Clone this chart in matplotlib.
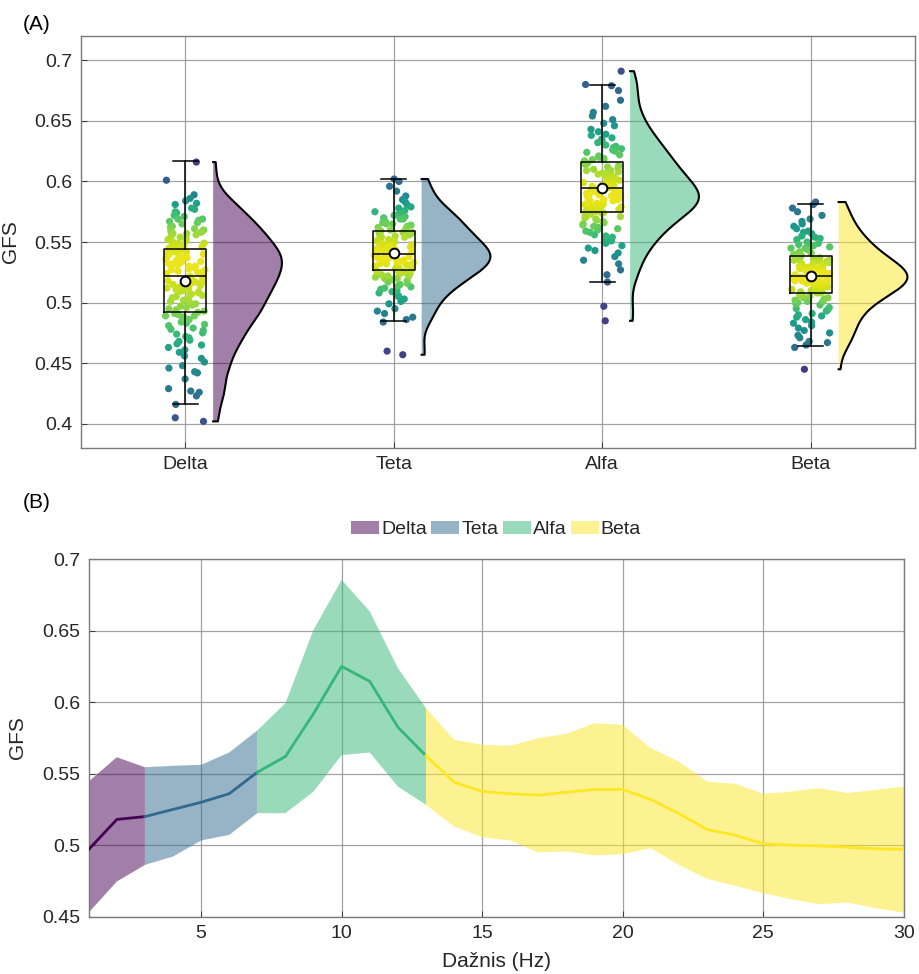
import numpy as np
import matplotlib
matplotlib.use("Agg")
import matplotlib.pyplot as plt
from matplotlib.patches import Patch

plt.rcParams['font.family'] = ['Liberation Sans', 'DejaVu Sans']

# ---------------- data ----------------
bands = ["Delta", "Teta", "Alfa", "Beta"]

delta_vals = [.402, .405, .416, .423, .426, .427, .429, .437, .442, .443, .446, .448,
              .451, .454, .456, .459, .461, .463, .465, .466, .468, .469,
              .471, .472, .474, .475, .477, .478, .479,
              .481, .482, .483, .484, .486, .487, .488, .489, .489,
              .490, .491, .492, .493, .494, .495, .496, .497, .498, .499, .499,
              .500, .501, .502, .503, .504, .505, .506, .507, .507, .508, .509, .509,
              .510, .511, .512, .512, .513, .514, .515, .516, .516, .517, .518, .519, .519,
              .520, .520, .521, .522, .522, .523, .524, .525, .525, .526, .527, .527, .528, .529, .529,
              .530, .530, .531, .532, .532, .533, .534, .534, .535, .536, .536, .537, .538, .538, .539, .539,
              .540, .540, .541, .542, .542, .543, .544, .545, .545, .546, .547, .547, .548, .549, .549,
              .550, .551, .552, .553, .554, .555, .556, .557, .557, .558, .559, .559,
              .560, .561, .562, .563, .565, .566, .567, .568, .569, .569,
              .571, .572, .574, .575, .577, .578,
              .581, .582, .584, .586, .589, .601, .616]

teta_vals = [.457, .460, .484, .486, .488, .491, .493, .495, .499,
             .501, .503, .505, .506, .508, .509,
             .510, .511, .512, .513, .514, .515, .516, .517, .518, .519,
             .520, .520, .521, .522, .522, .523, .524, .524, .525, .526, .526, .527, .527, .528, .528, .529, .529,
             .530, .530, .531, .531, .532, .532, .533, .533, .534, .534, .535, .535, .536, .536, .537, .537,
             .538, .538, .538, .539, .539, .539,
             .540, .540, .541, .541, .542, .542, .543, .543, .544, .544, .545, .545, .546, .546, .547, .547,
             .548, .548, .549, .549,
             .550, .551, .551, .552, .553, .554, .554, .555, .556, .557, .557, .558, .558, .559, .559,
             .560, .561, .562, .563, .564, .565, .565, .566, .567, .568, .569, .569,
             .570, .571, .572, .573, .574, .575, .576, .578, .579,
             .581, .583, .585, .588, .592, .596, .600, .602]

alfa_vals = [.485, .497, .517, .523, .527, .532, .535, .538,
             .541, .543, .545, .547, .549,
             .551, .552, .554, .555, .556, .558, .559,
             .560, .561, .562, .563, .564, .565, .566, .567, .568, .569,
             .570, .571, .571, .572, .573, .574, .574, .575, .576, .576, .577, .578, .578, .579, .579,
             .580, .580, .581, .581, .582, .582, .583, .584, .584, .585, .585, .586, .587, .587, .588, .588, .589, .589,
             .590, .590, .591, .591, .592, .592, .593, .594, .594, .595, .595, .596, .597, .597, .598, .598, .599,
             .600, .601, .601, .602, .603, .604, .604, .605, .606, .607, .607, .608, .609, .609,
             .610, .611, .612, .613, .614, .615, .616, .617, .618, .618, .619,
             .620, .621, .622, .624, .625, .626, .627, .628, .629,
             .630, .632, .633, .635, .636, .638, .639,
             .641, .643, .646, .648, .651, .654, .657, .662, .667, .675, .679, .680, .691]

beta_vals = [.445, .463, .465, .467, .468, .471, .473, .475, .477, .479,
             .481, .483, .484, .486, .488, .489,
             .490, .491, .493, .494, .495, .496, .498, .499,
             .500, .501, .501, .502, .503, .504, .504, .505, .506, .506, .507, .508, .508, .509, .509,
             .510, .510, .511, .511, .512, .512, .513, .513, .514, .514, .515, .515, .516, .516, .517, .517,
             .518, .518, .518, .519, .519, .519,
             .520, .520, .520, .521, .521, .521, .522, .522, .522, .523, .523, .523, .524, .524, .525, .525,
             .526, .526, .527, .527, .528, .528, .529, .529,
             .530, .530, .531, .531, .532, .532, .533, .533, .534, .534, .535, .535, .536, .536, .537, .537, .538, .539,
             .540, .541, .542, .543, .544, .545, .545, .546, .547, .548, .548, .549,
             .550, .552, .553, .554, .555, .557, .558, .559,
             .561, .563, .565, .567, .569, .572, .575, .578, .581, .583]

# box statistics per band
box_q1 = [0.492, 0.527, 0.5746, 0.508]
box_med = [0.5217, 0.540, 0.5942, 0.5217]
box_q3 = [0.5446, 0.5595, 0.6163, 0.5383]
box_wlo = [0.4165, 0.4845, 0.5171, 0.4639]
box_whi = [0.6165, 0.6022, 0.6796, 0.581]
box_mean = [0.5176, 0.541, 0.5948, 0.5217]

# panel B: GFS vs frequency
freq = [1, 2, 3, 4, 5, 6, 7, 8, 9, 10, 11, 12, 13, 14, 15,
        16, 17, 18, 19, 20, 21, 22, 23, 24, 25, 26, 27, 28, 29, 30]
gfs_mean = [0.497, 0.518, 0.520, 0.525, 0.530, 0.536, 0.551, 0.562, 0.592, 0.625,
            0.6145, 0.5825, 0.5625, 0.544, 0.5375, 0.536, 0.535, 0.537, 0.539, 0.539,
            0.532, 0.522, 0.511, 0.507, 0.501, 0.500, 0.4995, 0.4986, 0.4974, 0.4972]
gfs_upper = [0.5445, 0.5615, 0.5545, 0.5555, 0.5562, 0.5648, 0.5802, 0.5993, 0.6506, 0.6855,
             0.6634, 0.6238, 0.5958, 0.5737, 0.5702, 0.5695, 0.5748, 0.5779, 0.5853, 0.5841,
             0.5678, 0.5585, 0.5445, 0.5429, 0.5359, 0.5375, 0.5399, 0.5364, 0.5387, 0.541]
gfs_lower = [0.4529, 0.4746, 0.4862, 0.4921, 0.5033, 0.5072, 0.5224, 0.5224, 0.5375, 0.563,
             0.5648, 0.541, 0.5282, 0.5131, 0.5056, 0.5033, 0.4949, 0.4956, 0.4928, 0.4937,
             0.4979, 0.4862, 0.4765, 0.4716, 0.4664, 0.4622, 0.4587, 0.4599, 0.4559, 0.4529]
band_edges = [(1, 3), (3, 7), (7, 13), (13, 30)]

# ---------------- styling ----------------
cmap = plt.get_cmap('viridis')
band_colors = [cmap(0.0), cmap(1 / 3), cmap(2 / 3), cmap(1.0)]
text_col = '#262626'
grid_col = '#8c8c8c'
FS = 14

fig = plt.figure(figsize=(9.2, 9.74), dpi=100)
axA = fig.add_axes([0.088, 0.540, 0.9065, 0.423])
axB = fig.add_axes([0.0964, 0.0588, 0.886, 0.3672])


def kde(data, grid, bw):
    d = np.asarray(data)[:, None]
    g = np.asarray(grid)[None, :]
    return np.exp(-0.5 * ((g - d) / bw) ** 2).sum(axis=0) / (len(data) * bw * np.sqrt(2 * np.pi))


groups = [delta_vals, teta_vals, alfa_vals, beta_vals]

for i, vals in enumerate(groups):
    pos = i + 1
    vals = np.asarray(vals)
    n = len(vals)
    # deterministic scatter offset (hash of index)
    idx = np.arange(n) + 37 * (i + 1)
    h = np.sin(idx * 12.9898 + 78.233) * 43758.5453
    jit = (h - np.floor(h) - 0.5) * 0.19
    dens_pts = kde(vals, vals, 0.011)
    rel = dens_pts / dens_pts.max()
    cval = 0.97 * rel ** 0.5
    order = np.argsort(cval)
    axA.scatter(pos + jit[order], vals[order], s=27, c=cmap(cval[order]),
                edgecolors='none', zorder=3)
    # half violin
    grid = np.linspace(vals.min(), vals.max(), 300)
    dens = kde(vals, grid, 0.0095)
    width = dens / dens.max() * 0.33
    base = pos + 0.134
    axA.fill_betweenx(grid, base, base + width, facecolor=band_colors[i], alpha=0.5,
                      edgecolor='none', zorder=2)
    axA.plot(np.r_[base, base + width, base], np.r_[grid[0], grid, grid[-1]],
             color='black', lw=1.5, zorder=4)

stats = []
for i in range(4):
    stats.append(dict(med=box_med[i], q1=box_q1[i], q3=box_q3[i], whislo=box_wlo[i],
                      whishi=box_whi[i], mean=box_mean[i], fliers=[]))
axA.bxp(stats, positions=[1, 2, 3, 4], widths=0.2, showmeans=True, showfliers=False,
        patch_artist=False, manage_ticks=False,
        boxprops=dict(color='black', lw=1.1), whiskerprops=dict(color='black', lw=1.1),
        capprops=dict(color='black', lw=1.1), medianprops=dict(color='black', lw=1.1),
        capwidths=0.12,
        meanprops=dict(marker='o', markerfacecolor='white', markeredgecolor='black',
                       markersize=7, markeredgewidth=1.4), zorder=5)

axA.set_xlim(0.5, 4.5)
axA.set_ylim(0.38, 0.72)
axA.set_xticks([1, 2, 3, 4])
axA.set_xticklabels(bands)
axA.set_yticks([0.4, 0.45, 0.5, 0.55, 0.6, 0.65, 0.7])
axA.set_yticklabels(['0.4', '0.45', '0.5', '0.55', '0.6', '0.65', '0.7'])
axA.set_ylabel('GFS', fontsize=15, color=text_col)
axA.yaxis.set_label_coords(-0.073, 0.5)

# panel B
f = np.asarray(freq)
m = np.asarray(gfs_mean)
up = np.asarray(gfs_upper)
lo = np.asarray(gfs_lower)
handles = []
for i, (a, b) in enumerate(band_edges):
    sel = (f >= a) & (f <= b)
    axB.fill_between(f[sel], lo[sel], up[sel], facecolor=band_colors[i], alpha=0.5,
                     edgecolor='none', zorder=2)
    axB.plot(f[sel], m[sel], color=band_colors[i], lw=2, zorder=3)
    handles.append(Patch(facecolor=band_colors[i], alpha=0.5, edgecolor='none', label=bands[i]))

axB.set_xlim(1, 30)
axB.set_ylim(0.45, 0.7)
axB.set_xticks([5, 10, 15, 20, 25, 30])
axB.set_yticks([0.45, 0.5, 0.55, 0.6, 0.65, 0.7])
axB.set_yticklabels(['0.45', '0.5', '0.55', '0.6', '0.65', '0.7'])
axB.set_ylabel('GFS', fontsize=15, color=text_col)
axB.yaxis.set_label_coords(-0.076, 0.5)
axB.set_xlabel('Dažnis (Hz)', fontsize=15, color=text_col)
axB.xaxis.set_label_coords(0.5, -0.098)
axB.legend(handles=handles, loc='center', bbox_to_anchor=(0.5, 1.082), ncol=4,
           frameon=False, fontsize=FS, handlelength=1.44, handleheight=0.67,
           handletextpad=0.12, columnspacing=0.2, labelcolor=text_col)

for ax in (axA, axB):
    ax.grid(True, color=grid_col, lw=0.9, alpha=0.8)
    ax.set_axisbelow(True)
    ax.tick_params(direction='in', length=4, width=0.6, colors=text_col, labelsize=FS,
                   pad=6, labelcolor=text_col)
    for sp in ax.spines.values():
        sp.set_color('#7a7a7a')
        sp.set_linewidth(1.0)

fig.text(23 / 920, 1 - 24 / 974, '(A)', fontsize=15, color='black', va='center', ha='left')
fig.text(23 / 920, 1 - 503 / 974, '(B)', fontsize=15, color='black', va='center', ha='left')

fig.savefig('out.png', dpi=100)
